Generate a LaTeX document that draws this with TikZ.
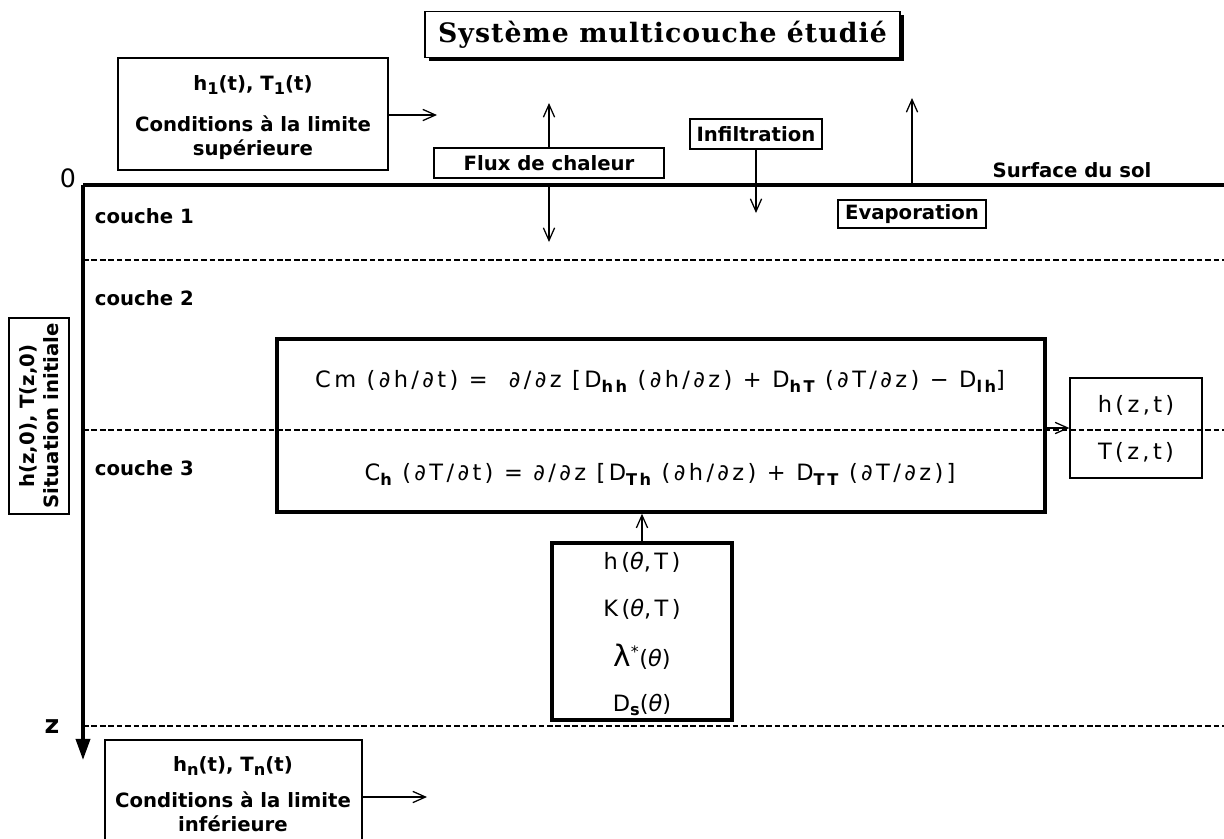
\documentclass[tikz,border=0pt]{standalone}
\usepackage{fontspec}
\setmainfont{DejaVu Sans}
\newfontfamily\titlefont[LetterSpace=4]{DejaVu Serif}
\newfontfamily\eqfont[LetterSpace=15]{DejaVu Sans}
\usepackage{tikz}
\usetikzlibrary{arrows.meta,positioning}
\newcommand\lowix[1]{\raisebox{-0.4ex}{\fontsize{11.5}{12}\selectfont\bfseries #1}}

\begin{document}
\begin{tikzpicture}[x=0.025cm,y=-0.025cm,
  lab/.style={font=\fontsize{14}{17}\selectfont\bfseries},
  eqn/.style={font=\eqfont\fontsize{16}{18}\selectfont},
  box/.style={draw,line width=0.9pt,inner sep=2pt},
  heavybox/.style={draw,line width=2.4pt},
  barb/.style={-{Straight Barb[length=9pt,width=8pt]},line width=0.9pt},
  layer/.style={line width=1.3pt,dash pattern=on 4pt off 2pt},
  axis/.style={line width=2.5pt}]
\useasboundingbox[fill=white] (0,0) rectangle (1224,838);
\coordinate (O) at (83,185);
\coordinate (surfend) at (1224,185);
\coordinate (zend) at (83,760);

% titre
\fill (666.5,38.5) ++(-5.9375cm,-0.5625cm) rectangle ++(11.875cm,1.15cm);
\node[draw,fill=white,line width=1pt,minimum width=11.875cm,minimum height=1.15cm,
  font=\titlefont\fontsize{19}{22}\selectfont\bfseries] (title) at (662.5,34.5) {Système multicouche étudié};

% couches
\draw[layer] (O |- 0,260) -- (1224,260);
\draw[layer] (O |- 0,430) -- (1224,430);
\draw[layer] (O |- 0,726) -- (1224,726);
\draw[axis] (O) -- (surfend);
\draw[axis,-{Triangle[length=15pt,width=10pt]}] (O) -- (zend);
\node[font=\fontsize{18}{20}\selectfont] (zero) at (68,178) {0};
\node[font=\fontsize{18}{20}\selectfont\bfseries] (zlab) at (52,727) {z};
\node[lab,anchor=west] (c1) at (90,216) {couche 1};
\node[lab,anchor=west] (c2) at (90,298) {couche 2};
\node[lab,anchor=west] (c3) at (90,468) {couche 3};
\node[lab] (surf) at (1072,170) {Surface du sol};

% limite superieure
\node[box,minimum width=6.75cm,minimum height=2.8cm] (upper) at (253,114) {};
\node[lab] (upperh) at (253,85) {h\lowix{1}(t), T\lowix{1}(t)};
\node[lab,align=center] (uppertxt) at (253,138) {Conditions à la limite\\supérieure};
\coordinate (upperend) at (437,115);
\draw[barb] (upper.east |- upperend) -- (upperend);

% flux a la surface
\node[box,lab,minimum width=5.75cm,minimum height=0.75cm] (flux) at (549,163) {Flux de chaleur};
\coordinate (fluxtop) at (549,103);
\coordinate (fluxbot) at (549,242);
\draw[barb] (flux.north) -- (fluxtop);
\draw[barb] (flux.south |- O) -- (fluxbot);
\node[box,lab,minimum width=3.3cm,minimum height=0.75cm] (infil) at (756,134) {Infiltration};
\coordinate (infilend) at (756,213);
\draw[barb] (infil.south) -- (infilend);
\node[box,lab,minimum width=3.7cm,minimum height=0.7cm] (evap) at (912,214) {Evaporation};
\coordinate (evaptop) at (912,98);
\draw[barb] (evap.north |- O) -- (evaptop);

% situation initiale
\node[box,lab,rotate=90,align=center,minimum width=4.9cm,minimum height=1.5cm] (init) at (39,416) {h(z,0), T(z,0)\\Situation initiale};

% equations
\node[heavybox,minimum width=19.2cm,minimum height=4.325cm] (eq) at (661,425.5) {};
\node[eqn] (eqm) at (660,381) {Cm (∂h/∂t) = \ ∂/∂z [D\lowix{hh} (∂h/∂z) + D\lowix{hT} (∂T/∂z) − D\lowix{lh}]};
\node[eqn] (eqt) at (660,474) {C\lowix{h} (∂T/∂t) = ∂/∂z [D\lowix{Th} (∂h/∂z) + D\lowix{TT} (∂T/∂z)]};
\node[box,minimum width=3.3cm,minimum height=2.5cm] (out) at (1136,428) {};
\node[eqn] (hzt) at (1136,405) {h(z,t)};
\node[eqn] (Tzt) at (1136,452) {T(z,t)};
\draw[barb] (eq.east |- out.west) -- (out.west);

% proprietes
\node[heavybox,minimum width=4.5cm,minimum height=4.425cm] (prop) at (642,631.5) {};
\node[eqn] (ph) at (642,562) {h({\itshape θ},T)};
\node[eqn] (pk) at (642,609) {K({\itshape θ},T)};
\node[eqn] (pl) at (642,657) {{\fontsize{21}{22}\selectfont λ}\textsuperscript{*}({\itshape θ})};
\node[eqn] (pd) at (642,705) {D\lowix{s}({\itshape θ})};
\draw[barb] (prop.north) -- (prop.north |- eq.south);

% limite inferieure
\node[box,minimum width=6.425cm,minimum height=2.75cm] (lower) at (233.5,795) {};
\node[lab] (lowerh) at (233,766) {h\lowix{n}(t), T\lowix{n}(t)};
\node[lab,align=center] (lowertxt) at (233,812) {Conditions à la limite\\inférieure};
\coordinate (lowerend) at (427,797);
\draw[barb] (lower.east |- lowerend) -- (lowerend);
\end{tikzpicture}
\end{document}
